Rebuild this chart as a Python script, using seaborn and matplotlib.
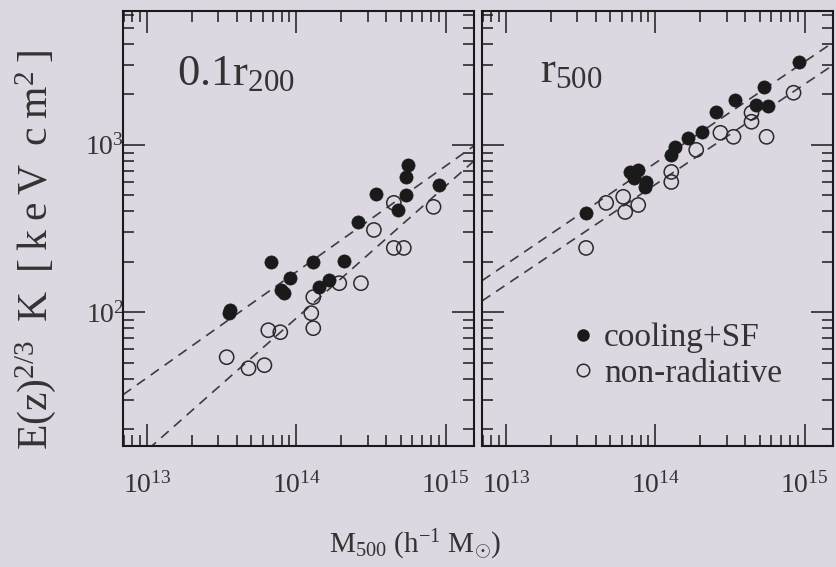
import numpy as np
import pandas as pd
import matplotlib
matplotlib.use("Agg")
import matplotlib.pyplot as plt
import seaborn as sns
from matplotlib.lines import Line2D
from matplotlib.ticker import LogLocator, NullFormatter

# Entropy E(z)^{2/3} K [keV cm^2] versus M500 [h^-1 Msun]
# --- measured inside 0.1 r200
m_core_cool = [5.58e14, 5.41e14, 8.98e14, 3.42e14, 5.41e14, 4.79e14, 2.59e14,
               6.81e13, 1.30e14, 2.09e14, 9.12e13, 7.94e13, 8.32e13, 1.42e14,
               1.66e14, 3.52e13, 3.60e13]
k_core_cool = [759, 643, 576, 509, 502, 408, 346,
               199, 199, 202, 160, 135, 130, 141,
               156, 98.6, 103]
m_core_nonrad = [8.30e14, 3.31e14, 4.50e14, 4.50e14, 5.25e14, 1.94e14, 2.71e14,
                 1.30e14, 1.26e14, 1.30e14, 6.50e13, 7.82e13, 3.42e13, 4.79e13,
                 6.12e13]
k_core_nonrad = [426, 310, 450, 242, 242, 149, 149,
                 123, 98.6, 80.2, 78.0, 75.9, 53.8, 46.2,
                 48.2]

# --- measured at r500
m_r500_cool = [9.10e14, 5.31e14, 3.44e14, 4.76e14, 5.73e14, 2.56e14, 2.04e14,
               1.66e14, 1.36e14, 1.28e14, 6.79e13, 7.69e13, 8.70e13, 8.58e13,
               3.44e13, 7.23e13]
k_r500_cool = [3140, 2220, 1858, 1737, 1713, 1578, 1197,
               1102, 973, 872, 689, 708, 600, 561,
               392, 634]
m_r500_nonrad = [8.43e14, 4.41e14, 4.41e14, 5.56e14, 2.73e14, 3.34e14, 1.88e14,
                 1.28e14, 1.28e14, 4.69e13, 6.10e13, 6.29e13, 7.69e13, 3.44e13]
k_r500_nonrad = [2048, 1556, 1374, 1117, 1180, 1117, 933,
                 689, 600, 450, 489, 397, 437, 242]

# power-law fits K = norm * (M / 1e14)^slope  (cooling+SF, non-radiative)
fit_core_norm = [174, 92]
fit_core_slope = [0.633, 0.79]
fit_r500_norm = [778, 579]
fit_r500_slope = [0.606, 0.60]

panel_labels = ["0.1r$_{200}$", "r$_{500}$"]
legend_labels = ["cooling+SF", "non-radiative"]

BG = "#dcd7e0"
INK = "#1a1a1a"
TXT = "#333333"

sns.set_theme(style="ticks")
plt.rcParams["font.family"] = ["Liberation Serif", "DejaVu Serif"]
plt.rcParams["mathtext.fontset"] = "custom"
plt.rcParams["mathtext.rm"] = "Liberation Serif"
plt.rcParams["mathtext.it"] = "Liberation Serif:italic"
plt.rcParams["mathtext.bf"] = "Liberation Serif:bold"

W, H = 837, 567
fig = plt.figure(figsize=(W / 100, H / 100), dpi=100, facecolor=BG)

def box(x0, y0, x1, y1):
    return [x0 / W, 1 - y1 / H, (x1 - x0) / W, (y1 - y0) / H]

ax_l = fig.add_axes(box(123, 11, 474, 446))
ax_r = fig.add_axes(box(482, 11, 833, 446), sharey=ax_l)

XLIM = (10 ** 12.84, 10 ** 15.19)
YLIM = (10 ** 1.2, 10 ** 3.8)
m_grid = np.logspace(12.84, 15.19, 60)

panels = [
    (ax_l, m_core_cool, k_core_cool, m_core_nonrad, k_core_nonrad,
     fit_core_norm, fit_core_slope, panel_labels[0], (0.154, 0.830)),
    (ax_r, m_r500_cool, k_r500_cool, m_r500_nonrad, k_r500_nonrad,
     fit_r500_norm, fit_r500_slope, panel_labels[1], (0.165, 0.837)),
]

for ax, mc, kc, mn, kn, norms, slopes, lab, lab_xy in panels:
    ax.set_facecolor(BG)
    ax.set_xscale("log")
    ax.set_yscale("log")
    # fitted relations
    for norm, slope in zip(norms, slopes):
        fit = pd.DataFrame({"m": m_grid, "k": norm * (m_grid / 1e14) ** slope})
        sns.lineplot(data=fit, x="m", y="k", ax=ax, color="#3c3c3c",
                     linewidth=1.2, linestyle=(0, (6, 4.2)), zorder=1)
    # simulated clusters
    sns.scatterplot(x=mn, y=kn, ax=ax, marker="o", s=105, color="none",
                    edgecolor="#2a2a2a", linewidth=1.1, zorder=2)
    sns.scatterplot(x=mc, y=kc, ax=ax, marker="o", s=90, color=INK,
                    edgecolor=INK, linewidth=0.5, zorder=3)
    ax.set_xlim(*XLIM)
    ax.set_ylim(*YLIM)
    ax.xaxis.set_major_locator(LogLocator(base=10, numticks=10))
    ax.xaxis.set_minor_locator(LogLocator(base=10, subs=np.arange(2, 10), numticks=20))
    ax.yaxis.set_major_locator(LogLocator(base=10, numticks=10))
    ax.yaxis.set_minor_locator(LogLocator(base=10, subs=np.arange(2, 10), numticks=20))
    ax.xaxis.set_minor_formatter(NullFormatter())
    ax.yaxis.set_minor_formatter(NullFormatter())
    ax.tick_params(which="both", direction="in", top=True, right=True,
                   color=INK, width=1.1)
    ax.tick_params(which="major", length=16)
    ax.tick_params(which="minor", length=8)
    ax.tick_params(axis="x", which="major", pad=19, labelsize=20, labelcolor=TXT)
    ax.tick_params(axis="y", which="major", pad=-1, labelsize=20, labelcolor=TXT)
    for sp in ax.spines.values():
        sp.set_linewidth(1.5)
        sp.set_color(INK)
        sp.set_visible(True)
    ax.set_xlabel("")
    ax.set_ylabel("")
    ax.text(lab_xy[0], lab_xy[1], lab, transform=ax.transAxes, fontsize=32,
            color=TXT, va="baseline", ha="left")

ax_r.tick_params(axis="y", which="both", labelleft=False)

handles = [
    Line2D([], [], linestyle="none", marker="o", markersize=8,
           markerfacecolor=INK, markeredgecolor=INK),
    Line2D([], [], linestyle="none", marker="o", markersize=9,
           markerfacecolor="none", markeredgecolor="#2a2a2a", markeredgewidth=1.1),
]
ax_r.legend(handles, legend_labels, loc="upper left",
            bbox_to_anchor=(0.259, 0.283), frameon=False, fontsize=24,
            handlelength=0.6, handletextpad=0.33, labelspacing=0.15,
            borderpad=0, borderaxespad=0, labelcolor=TXT)

sp = "\u2009"
ylab = ("E(z)$^{2/3}$" + sp + " K" + sp + " [" + sp
        + "k" + sp + "e" + sp + "V" + sp + " c" + sp + "m$^2$" + sp + "]")
fig.text(36 / W, 1 - 250 / H, ylab, rotation=90,
         ha="center", va="center", fontsize=30, color=TXT)
fig.text(415 / W, 1 - 545 / H, "M$_{500}$ (h$^{-1}$ M$_{\\odot}$)",
         ha="center", va="center", fontsize=21, color=TXT)

fig.savefig("out.png", dpi=100, facecolor=BG)
